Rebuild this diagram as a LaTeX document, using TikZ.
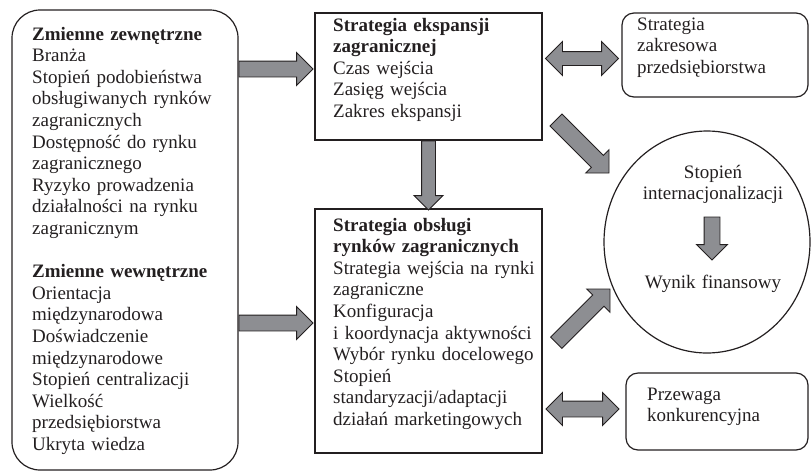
\documentclass[tikz,border=0pt]{standalone}
\usepackage{fontspec}
\setmainfont{Liberation Serif}
\usetikzlibrary{shapes.geometric,shapes.arrows,calc}
\definecolor{ink}{RGB}{35,31,32}
\definecolor{arrowfill}{RGB}{141,142,146}

\begin{document}
\begin{tikzpicture}[
		x=1pt, y=-1pt,
		every node/.style={text=ink, font=\fontsize{19}{21.6}\selectfont},
		frame/.style={draw=ink, line width=1.2pt, inner sep=0pt, outer sep=0pt, anchor=north west},
		txt/.style={anchor=base west, align=left, text width=#1, inner sep=0pt},
		fatarrow/.style={single arrow, draw=ink, fill=arrowfill, line width=0.9pt,
				inner xsep=0pt, outer sep=0pt, inner ysep=7.5pt, single arrow head extend=8.5pt},
		twoarrow/.style={double arrow, draw=ink, fill=arrowfill, line width=0.9pt,
				inner xsep=0pt, outer sep=0pt, inner ysep=7pt, double arrow head extend=9.5pt}
	]
	\useasboundingbox (0,0) rectangle (811,475);

	% boxes
	\node[frame, rounded corners=28pt, minimum width=226pt, minimum height=460pt] (ext) at (12,10) {};
	\node[frame, minimum width=227pt, minimum height=127pt] (exp) at (315,13) {};
	\node[frame, minimum width=227pt, minimum height=244pt] (obs) at (315,209) {};
	\node[frame, rounded corners=12pt, minimum width=186pt, minimum height=84pt] (zak) at (622,13) {};
	\node[frame, rounded corners=12pt, minimum width=182pt, minimum height=77pt] (adv) at (626,373) {};
	\node[ellipse, draw=ink, line width=1.2pt, inner sep=0pt, minimum width=206pt, minimum height=222pt] (fin) at (707,242) {};

	% texts
	\node[txt=205pt] (ext-t) at (32,40) {\textbf{Zmienne zewnętrzne}\\
			Branża\\
			Stopień podobieństwa\\
			obsługiwanych rynków\\
			zagranicznych\\
			Dostępność do rynku\\
			zagranicznego\\
			Ryzyko prowadzenia\\
			działalności na rynku\\
			zagranicznym\\[21.6pt]
			\textbf{Zmienne wewnętrzne}\\
			Orientacja\\
			międzynarodowa\\
			Doświadczenie\\
			międzynarodowe\\
			Stopień centralizacji\\
			Wielkość\\
			przedsiębiorstwa\\
			Ukryta wiedza};
	\node[txt=205pt] (exp-t) at (333,31) {\textbf{Strategia ekspansji}\\
			\textbf{zagranicznej}\\
			Czas wejścia\\
			Zasięg wejścia\\
			Zakres ekspansji};
	\node[txt=205pt] (obs-t) at (333,231) {\textbf{Strategia obsługi}\\
			\textbf{rynków zagranicznych}\\
			Strategia wejścia na rynki\\
			zagraniczne\\
			Konfiguracja\\
			i koordynacja aktywności\\
			Wybór rynku docelowego\\
			Stopień\\
			standaryzacji/adaptacji\\
			działań marketingowych};
	\node[txt=165pt] (zak-t) at (637,30) {Strategia\\zakresowa\\przedsiębiorstwa};
	\node[txt=155pt] (adv-t) at (647,400) {Przewaga\\konkurencyjna};
	\node[anchor=base, align=center, text width=200pt, inner sep=0pt] (fin-a) at (713,178) {Stopień\\internacjonalizacji};
	\node[anchor=base, align=center, text width=200pt, inner sep=0pt] (fin-b) at (713,288) {Wynik finansowy};

	% block arrows
	\node[fatarrow, minimum height=74pt, anchor=tip] (a1) at ([xshift=-2pt,yshift=7.5pt]exp.west) {};
	\node[fatarrow, minimum height=74pt, anchor=tip] (a2) at ([xshift=-2pt,yshift=8pt]obs.west) {};
	\node[fatarrow, minimum height=69pt, rotate=-90, anchor=tip, inner ysep=6.5pt,
		single arrow head extend=7.5pt] (a3) at ([yshift=-1pt]obs.north) {};
	\node[twoarrow, minimum height=73pt, inner ysep=6.5pt, double arrow head extend=10pt]
		(a4) at ($(exp.east |- zak.west)!0.5!(zak.west)+(0,3.5)$) {};
	\node[twoarrow, minimum height=73pt, inner ysep=7.5pt, double arrow head extend=8.5pt]
		(a7) at ($(obs.east |- adv.west)!0.5!(adv.west)+(-1.5,-2.5)$) {};
	\node[fatarrow, minimum height=75pt, rotate=-45, anchor=tip, inner ysep=8pt,
		single arrow head extend=8pt] (a5) at ($(fin.center)+(-98,-69)$) {};
	\node[fatarrow, minimum height=76pt, rotate=45, anchor=tip] (a6) at ($(fin.center)+(-97,47)$) {};
	\node[fatarrow, minimum height=43pt, rotate=-90, anchor=tip, single arrow head extend=7.5pt]
		(a8) at ($(fin.center)+(5,18)$) {};
\end{tikzpicture}
\end{document}
